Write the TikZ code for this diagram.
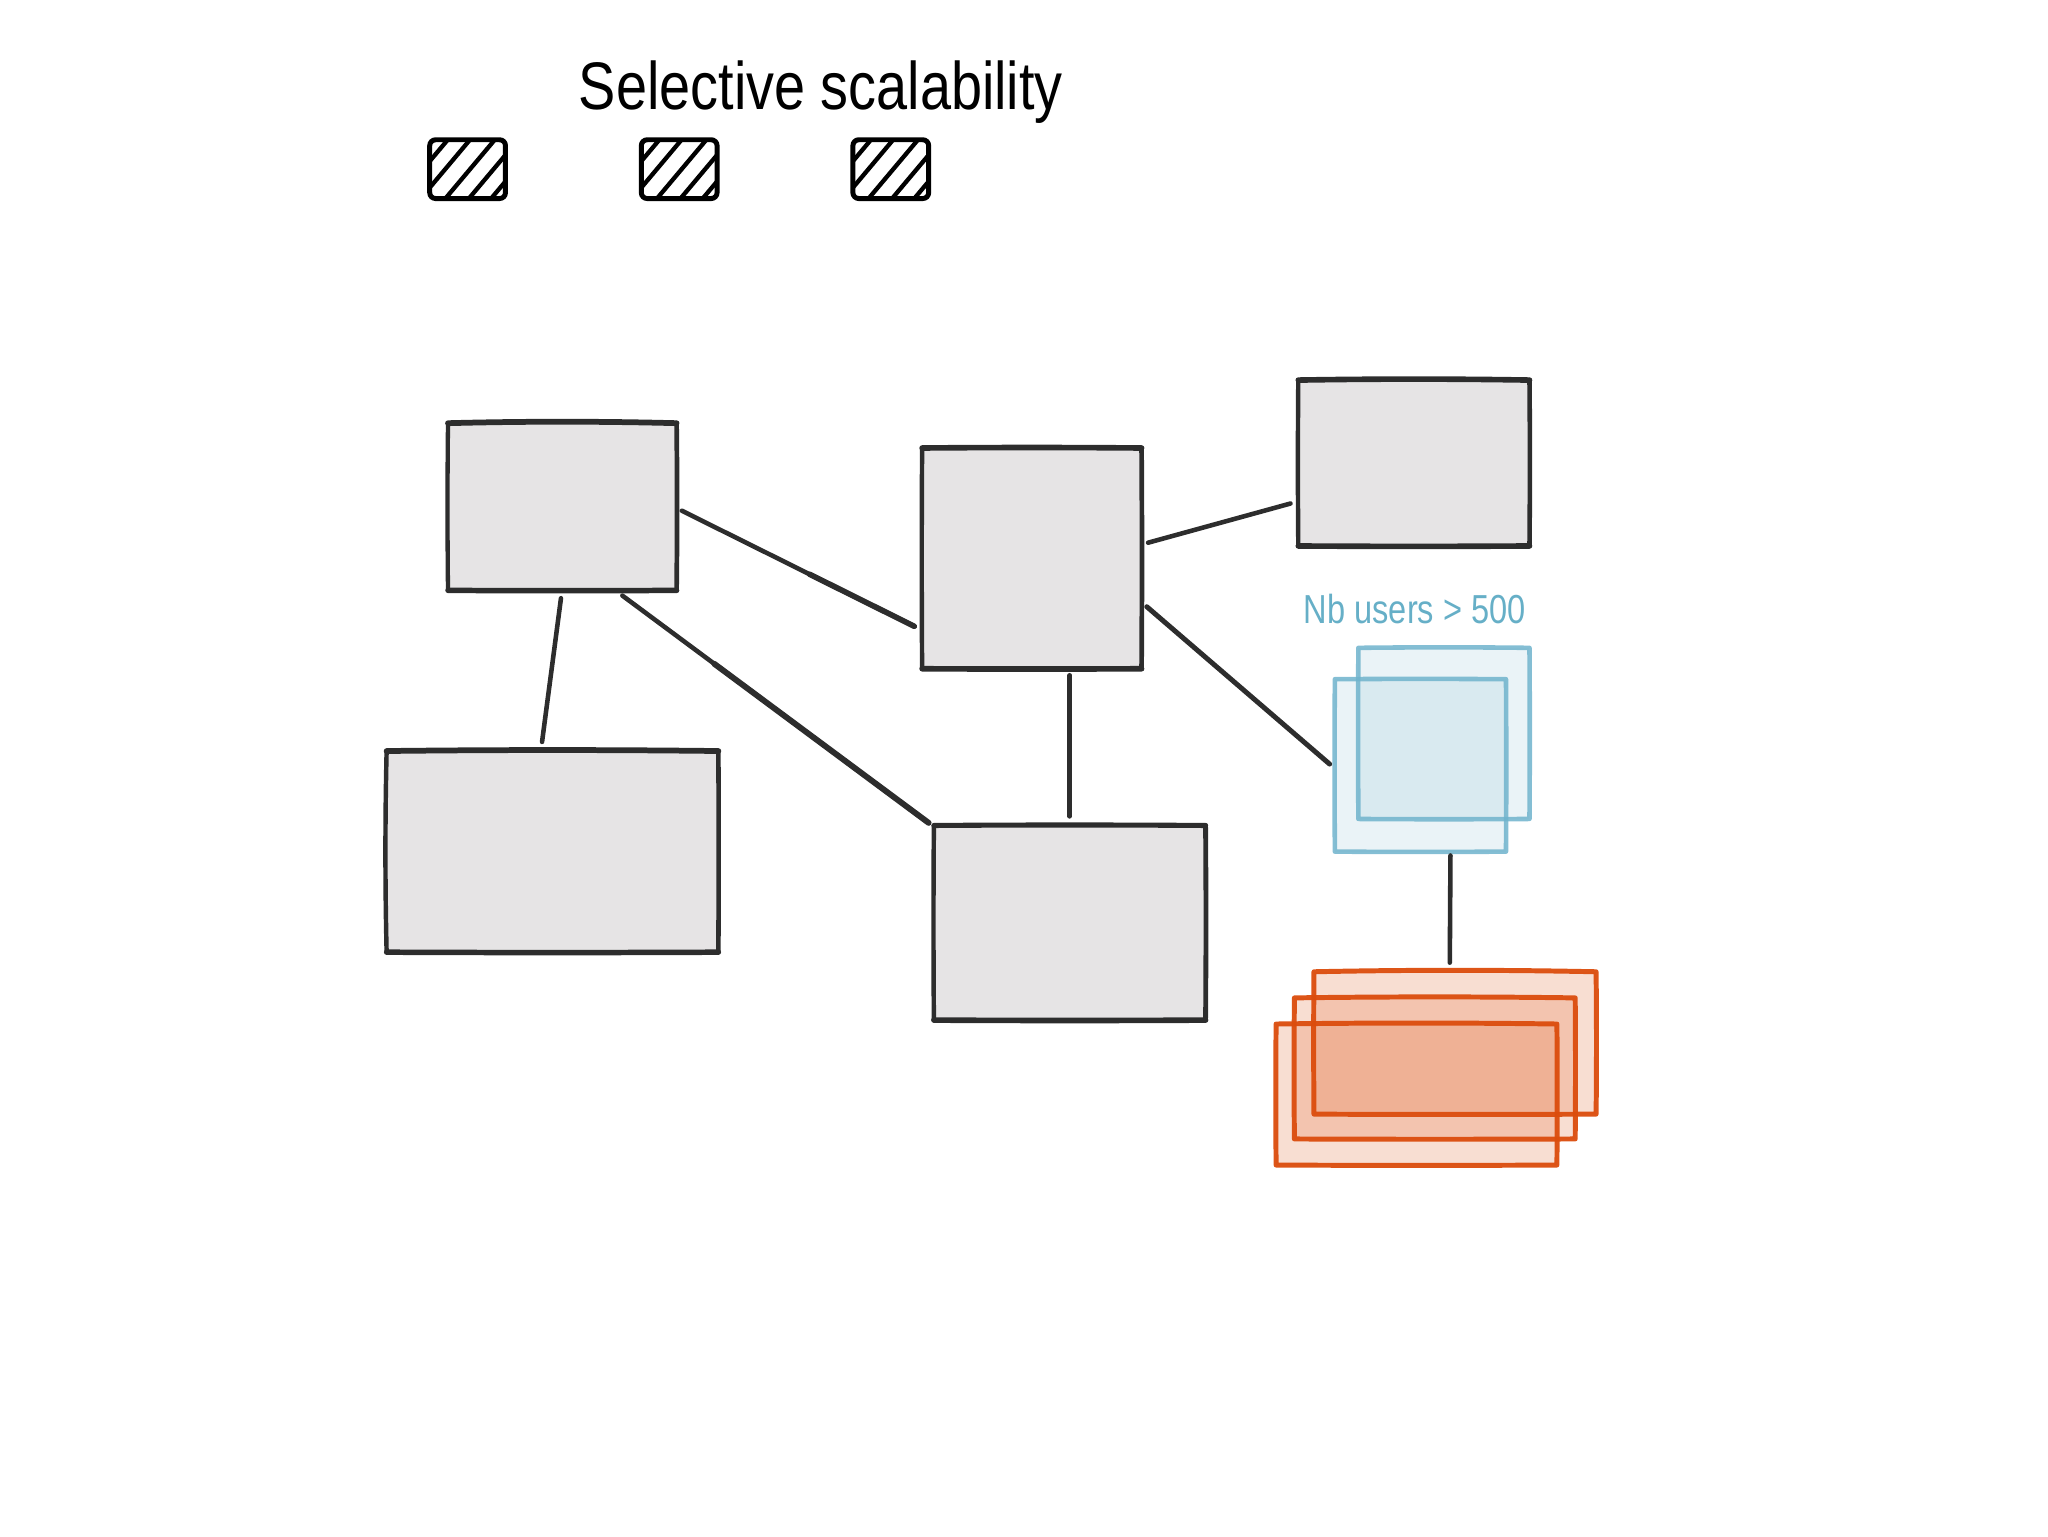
\documentclass[tikz,border=0pt]{standalone}
\usepackage{graphicx}
\usepackage{fontspec}
\setmainfont{Liberation Sans}
\usetikzlibrary{calc}
\definecolor{ink}{HTML}{2D2D2D}
\definecolor{boxfill}{HTML}{E6E4E5}
\definecolor{bluefill}{RGB}{158,201,217}
\definecolor{blueline}{HTML}{6FB3CC}
\definecolor{bluetext}{HTML}{66AFC7}
\definecolor{orangefill}{RGB}{227,115,65}
\definecolor{orangeline}{HTML}{DB4C0C}
\tikzset{
  x=1pt,y=-1pt,
  plainbox/.style={rectangle,inner sep=0pt,outer sep=0pt,anchor=north west},
  graybox/.style={plainbox,fill=boxfill},
  bluebox/.style={plainbox,fill=bluefill,fill opacity=.22},
  orangebox/.style={plainbox,fill=orangefill,fill opacity=.24},
  edgestroke/.style={draw=ink,line cap=round},
  blueoutline/.style={draw=blueline,draw opacity=.85,line width=3.5pt,line join=round},
  orangeoutline/.style={draw=orangeline,draw opacity=.95,line width=3.8pt,line join=round},
  link/.style={draw=ink,line width=3.5pt,line cap=round},
  hatchicon/.style={plainbox,rounded corners=4.5pt,draw=black,line width=3.8pt,minimum width=58pt,minimum height=45pt,
    path picture={
      \foreach \d in {-24,-7,12,30,47}{
        \draw[black,line width=3.3pt] ($(path picture bounding box.south west)+(\d,0)$) -- ++(42,-50);
      }
    }},
}
% one hand-drawn side: from anchor #1 to anchor #2, bowed by (#3,#4), width #5
\newcommand{\sidestroke}[5]{%
  \draw[edgestroke,line width=#5pt] (#1) .. controls ($(#1)!.33!(#2)+(#3,#4)$) and ($(#1)!.67!(#2)+(#3,#4)$) .. (#2);}
% gray box outline: node, then bows top, right, bottom, left, then widths
\newcommand{\grayoutline}[9]{%
  \sidestroke{#1.north west}{#1.north east}{0}{#2}{#6}
  \sidestroke{#1.north east}{#1.south east}{#3}{0}{#7}
  \sidestroke{#1.south east}{#1.south west}{0}{#4}{#8}
  \sidestroke{#1.south west}{#1.north west}{#5}{0}{#9}}
% closed outline for the translucent boxes
\newcommand{\softoutline}[6]{%
  \draw[#2] (#1.north west)
    .. controls ($(#1.north west)!.33!(#1.north east)+(0,#3)$) and ($(#1.north west)!.67!(#1.north east)+(0,#3)$) .. (#1.north east)
    .. controls ($(#1.north east)!.33!(#1.south east)+(#4,0)$) and ($(#1.north east)!.67!(#1.south east)+(#4,0)$) .. (#1.south east)
    .. controls ($(#1.south east)!.33!(#1.south west)+(0,#5)$) and ($(#1.south east)!.67!(#1.south west)+(0,#5)$) .. (#1.south west)
    .. controls ($(#1.south west)!.33!(#1.north west)+(#6,0)$) and ($(#1.south west)!.67!(#1.north west)+(#6,0)$) .. cycle;}
\begin{document}
\begin{tikzpicture}
\useasboundingbox (0,0) rectangle (1568,1176);
\node[anchor=base west,inner sep=0pt] (title) at (443,83.7) {\scalebox{.83}[1]{\fontsize{51.5}{56}\selectfont Selective scalability}};
\node[hatchicon] (i1) at (329,107) {};
\node[hatchicon] (i2) at (491,107) {};
\node[hatchicon] (i3) at (653,107) {};

\node[graybox,minimum width=175pt,minimum height=128pt] (A) at (343,324) {};
\node[graybox,minimum width=168pt,minimum height=169pt] (B) at (706,343) {};
\node[graybox,minimum width=177pt,minimum height=127pt] (C) at (994,291) {};
\node[graybox,minimum width=254pt,minimum height=154pt] (D) at (296,575) {};
\node[graybox,minimum width=208pt,minimum height=149pt] (E) at (715,632) {};
\grayoutline{A}{-1.5}{.5}{.3}{-.5}{4.4}{3.6}{4.2}{3.3}
\grayoutline{B}{-.5}{.4}{.3}{-.4}{4.3}{3.6}{4.3}{3.4}
\grayoutline{C}{-1}{.4}{.4}{-.4}{4.3}{3.5}{4.3}{3.4}
\grayoutline{D}{-1}{.3}{.4}{-1.2}{4.4}{3.5}{4.2}{3.4}
\grayoutline{E}{-.5}{.4}{.4}{-.4}{3.9}{3.7}{4.3}{3.4}

\node[bluebox,minimum width=131pt,minimum height=131pt] (F) at (1040,496) {};
\node[bluebox,minimum width=131pt,minimum height=132pt] (G) at (1022,520) {};
\softoutline{F}{blueoutline}{-.5}{.3}{.3}{-.3}
\softoutline{G}{blueoutline}{-.3}{.3}{.3}{-.3}
\node[anchor=base west,inner sep=0pt,text=bluetext] (users) at (998,477) {\scalebox{.805}[1]{\fontsize{31}{34}\selectfont Nb users > 500}};

\node[orangebox,minimum width=216pt,minimum height=109pt] (H) at (1006,744) {};
\node[orangebox,minimum width=215pt,minimum height=108pt] (I) at (991,764) {};
\node[orangebox,minimum width=215pt,minimum height=108pt] (J) at (977,784) {};
\softoutline{H}{orangeoutline}{-1.5}{.4}{.3}{-.3}
\softoutline{I}{orangeoutline}{-1}{.3}{.3}{-.3}
\softoutline{J}{orangeoutline}{-1}{.3}{.3}{-.3}

\path[link] ($(A.east)+(4,3)$) coordinate (ab1) -- ($(B.west)+(-6,52)$) coordinate (ab2);
\path[link,line width=4.3pt] ($(ab1)!.55!(ab2)$) -- (ab2);
\path[link] ($(A.south)+(-1,6)$) -- ($(D.north)+(-8,-7)$);
\path[link] ($(A.south)+(46,4)$) coordinate (ae1) -- ($(E.north west)+(-4,-2)$) coordinate (ae2);
\path[link,line width=4.5pt] ($(ae1)!.3!(ae2)$) -- (ae2);
\path[link] ($(B.east)+(5,-12)$) -- ($(C.west)+(-6,31)$);
\path[link] ($(B.south)+(29,5)$) -- ($(E.north)+(0,-7)$);
\path[link,line width=3.8pt] ($(B.east)+(4,37)$) -- ($(G.west)+(-4,-1)$);
\path[link] ($(G.south)+(23,3)$) -- ($(H.north)+(-4,-7)$);
\end{tikzpicture}
\end{document}
